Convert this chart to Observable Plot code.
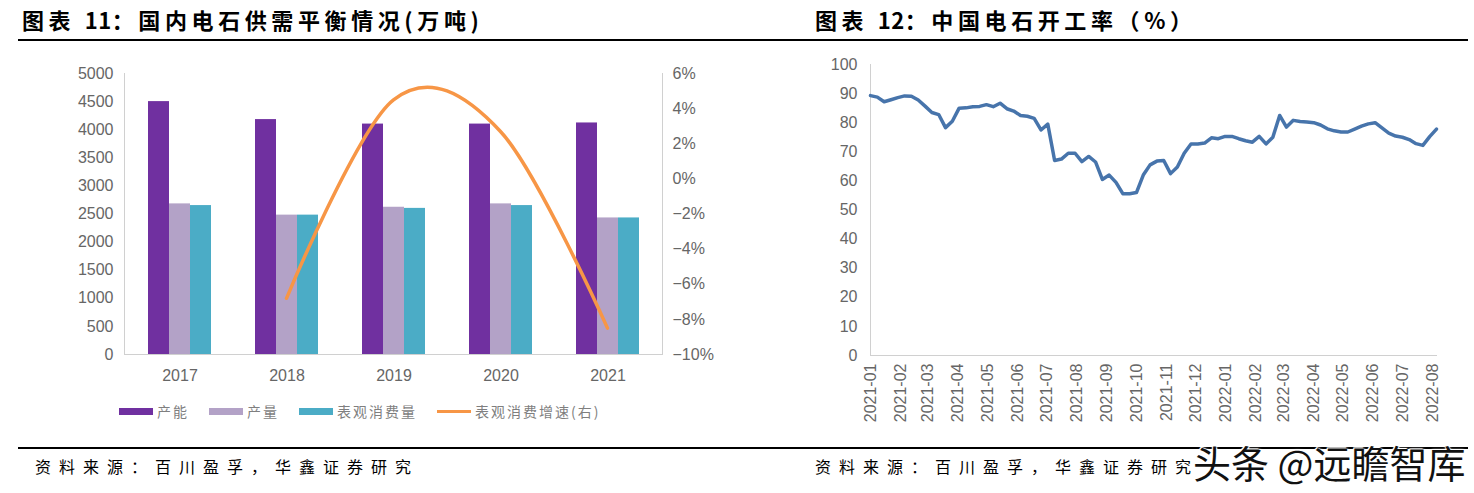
<!DOCTYPE html>
<html><head><meta charset="utf-8">
<script src="https://cdn.jsdelivr.net/npm/d3@7"></script>
<script src="https://cdn.jsdelivr.net/npm/@observablehq/plot@0.6"></script>
<style>
body{margin:0;background:#fff;}
#root{position:relative;width:1474px;height:493px;overflow:hidden;background:#fff;font-family:"Noto Sans CJK SC",sans-serif;}
.abs{position:absolute;}
.title{font-weight:700;font-size:22px;line-height:28px;color:#000;white-space:nowrap;letter-spacing:4.6px;}
.title .num{letter-spacing:0.5px;}
.rule{height:2px;background:#000;}
.source{font-size:16px;line-height:22px;letter-spacing:8px;color:#000;white-space:nowrap;}
.legend{display:flex;align-items:center;font-size:14px;letter-spacing:2px;color:#7f7f7f;white-space:nowrap;}
.legend .item{display:flex;align-items:center;margin-right:20px;}
.legend .sw{width:34px;height:7px;margin-right:4px;}
.legend .ln{width:34px;height:3px;margin-right:4px;}
.wm{font-size:38px;line-height:42px;color:#111;white-space:nowrap;text-shadow:0 0 2px #fff,0 0 3px #fff,1px 1px 0 #fff,-1px -1px 0 #fff;}
svg{overflow:visible;}
</style></head><body><div id="root"></div>
<script>
// ---------- data: 图表11 ----------
const years = ["2017","2018","2019","2020","2021"];
const seriesNames = ["产能","产量","表观消费量"];
const capacity = [4500,4180,4100,4100,4120];
const production = [2680,2480,2620,2680,2430];
const consumption = [2650,2480,2600,2650,2430];
const growthName = "表观消费增速(右)";
const growthYears = ["2018","2019","2020","2021"];
const growth = [-6.8,4.5,2.7,-8.5];
const leftTicks = [0,500,1000,1500,2000,2500,3000,3500,4000,4500,5000];
const rightTicks = [-10,-8,-6,-4,-2,0,2,4,6];
const barColors = ["#7030A0","#B3A2C7","#4BACC6"];
const lineColor = "#F79646";

// ---------- data: 图表12 (weekly, from 2021-01-01) ----------
const rateStart = "2021-01-01";
const rate = [89.3,88.8,87.2,87.9,88.6,89.2,89.1,87.8,85.7,83.5,82.8,78.3,80.5,85.0,85.1,85.5,85.6,86.2,85.5,86.7,
  84.8,84.0,82.5,82.2,81.5,77.5,79.5,67.0,67.5,69.5,69.5,66.6,68.4,66.5,60.5,62.0,59.5,55.6,55.6,56.0,
  62.0,65.5,66.8,67.0,62.5,64.8,69.5,72.7,72.7,73.0,74.8,74.5,75.3,75.3,74.5,73.8,73.3,75.3,72.7,75.0,
  82.5,78.5,80.8,80.4,80.2,80.0,79.2,77.9,77.2,76.8,76.8,77.8,78.8,79.6,80.0,78.2,76.4,75.4,75.0,74.2,
  72.8,72.2,75.2,77.8];
const monthTicks = ["2021-01","2021-02","2021-03","2021-04","2021-05","2021-06","2021-07","2021-08","2021-09","2021-10",
  "2021-11","2021-12","2022-01","2022-02","2022-03","2022-04","2022-05","2022-06","2022-07","2022-08"];
const rateTicks = [0,10,20,30,40,50,60,70,80,90,100];
const rateColor = "#4774ab";

const title1 = ["图表 ","11","：国内电石供需平衡情况(万吨)"];
const title2 = ["图表 ","12","：中国电石开工率（%）"];
const sourceText = "资料来源：百川盈孚，华鑫证券研究";
const watermark = "头条 @远瞻智库";

// ---------- layout ----------
const root = document.getElementById("root");
function add(cls, css, text){ const d=document.createElement("div"); d.className="abs "+cls; Object.assign(d.style, css); if(text!=null) d.textContent=text; root.appendChild(d); return d; }
function addTitle(parts, left){
  const d = add("title",{left:left,top:"5px"});
  parts.forEach((p,i)=>{ const s=document.createElement("span"); if(i===1) s.className="num"; s.textContent=p; d.appendChild(s); });
}
addTitle(title1,"22px");
addTitle(title2,"815px");
add("rule",{left:"18px",top:"39px",width:"1450px"});
add("rule",{left:"18px",top:"447px",width:"1450px"});
add("source",{left:"35px",top:"455px"},sourceText);
add("source",{left:"815px",top:"455px"},sourceText);

const tickFont = '"Liberation Sans",Arial,sans-serif';
const axisStyle = {fontFamily: tickFont, fontSize: "16px", color: "#666", background: "transparent", overflow:"visible"};
const axisGray = "#d0d0d0";
const fmtInt = d3.format("d");

// bars
const barData = years.flatMap((y,i)=>[
  {year:y, series:seriesNames[0], value:capacity[i]},
  {year:y, series:seriesNames[1], value:production[i]},
  {year:y, series:seriesNames[2], value:consumption[i]}
]);
const W1=740, H1=345, M1={left:124,right:78,top:23,bottom:41};
const bars = Plot.plot({
  width:W1, height:H1, marginLeft:M1.left, marginRight:M1.right, marginTop:M1.top, marginBottom:M1.bottom,
  style: axisStyle,
  fx: {domain: years, paddingInner: 0.415, paddingOuter: 0.2075, label: null, axis: "bottom", tickSize: 0, tickPadding: 15},
  x: {domain: seriesNames, axis: null, padding: 0},
  y: {domain: [0,5000], ticks: leftTicks, tickFormat: fmtInt, label: null, tickSize: 0, tickPadding: 35},
  color: {domain: seriesNames, range: barColors},
  marks: [
    Plot.barY(barData, {fx:"year", x:"series", y:"value", fill:"series"})
  ]
});
const g1 = add("",{left:"0px",top:"50px"}); g1.appendChild(bars);

// growth line overlay
const growthData = growthYears.map((y,i)=>({year:y, value:growth[i]}));
const fmtPct = d => (d<0 ? "\u2212"+(-d) : String(d)) + "%";
const line = Plot.plot({
  width:W1, height:H1, marginLeft:M1.left, marginRight:M1.right, marginTop:M1.top, marginBottom:M1.bottom,
  style: axisStyle,
  x: {type:"point", domain: years, padding: 0.5, axis: null},
  y: {domain: [-10,6], axis: null},
  marks: [
    Plot.frame({anchor:"left", stroke: axisGray}),
    Plot.frame({anchor:"bottom", stroke: axisGray}),
    Plot.frame({anchor:"right", stroke: axisGray}),
    Plot.axisY({anchor:"right", ticks: rightTicks, tickFormat: fmtPct, tickSize: 0, tickPadding: 10, label: null}),
    Plot.line(growthData, {x:"year", y:"value", stroke: lineColor, strokeWidth: 3.5, curve: "cardinal"})
  ]
});
const g2 = add("",{left:"0px",top:"50px"}); g2.appendChild(line);

// legend
const leg = add("legend",{left:"119px",top:"401px",height:"20px"});
seriesNames.forEach((s,i)=>{
  const it=document.createElement("div"); it.className="item";
  const sw=document.createElement("div"); sw.className="sw"; sw.style.background=barColors[i];
  const t=document.createElement("span"); t.textContent=s;
  it.append(sw,t); leg.appendChild(it);
});
{ const it=document.createElement("div"); it.className="item";
  const sw=document.createElement("div"); sw.className="ln"; sw.style.background=lineColor;
  const t=document.createElement("span"); t.textContent=growthName;
  it.append(sw,t); leg.appendChild(it); }

// 图表12
const parseDay = d3.utcParse("%Y-%m-%d"), parseMonth = d3.utcParse("%Y-%m");
const start = parseDay(rateStart);
const rateData = rate.map((v,i)=>({date: d3.utcDay.offset(start, 7*i), value: v}));
const rateChart = Plot.plot({
  width:734, height:390, marginLeft:130, marginRight:38, marginTop:14, marginBottom:85,
  style: axisStyle,
  x: {type:"utc", domain:[start, rateData[rateData.length-1].date], ticks: monthTicks.map(parseMonth),
      tickFormat: d3.utcFormat("%Y-%m"), tickRotate: -90, label: null, tickSize: 0, tickPadding: 8},
  y: {domain:[0,100], ticks: rateTicks, label: null, tickSize: 0, tickPadding: 13},
  marks: [
    Plot.frame({anchor:"left", stroke: axisGray}),
    Plot.frame({anchor:"bottom", stroke: axisGray}),
    Plot.lineY(rateData, {x:"date", y:"value", stroke: rateColor, strokeWidth: 3.5, strokeLinejoin:"round"})
  ]
});
const g3 = add("",{left:"740px",top:"50px"}); g3.appendChild(rateChart);

add("wm",{left:"1193px",top:"441px"},watermark);
</script></body></html>
